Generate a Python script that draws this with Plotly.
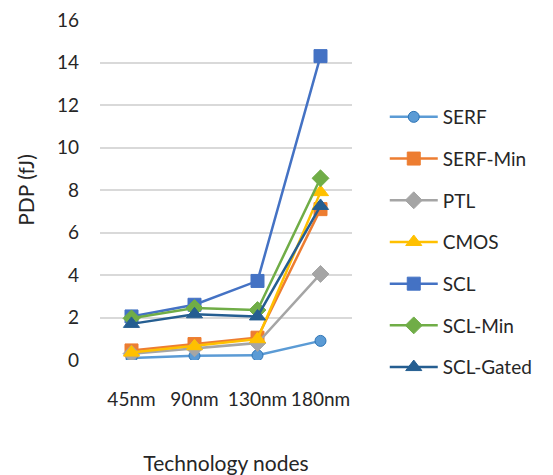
import plotly.graph_objects as go

nodes = ["45nm", "90nm", "130nm", "180nm"]

serf = [0.1, 0.2, 0.22, 0.9]
serf_min = [0.45, 0.75, 1.05, 7.1]
ptl = [0.3, 0.55, 0.8, 4.05]
cmos = [0.35, 0.65, 0.98, 7.9]
scl = [2.05, 2.6, 3.72, 14.3]
scl_min = [1.96, 2.45, 2.35, 8.55]
scl_gated = [1.7, 2.15, 2.05, 7.25]

series = [
    ("SERF", serf, "#5B9BD5", "circle", 11),
    ("SERF-Min", serf_min, "#ED7D31", "square", 13),
    ("PTL", ptl, "#A5A5A5", "diamond", 13),
    ("CMOS", cmos, "#FFC000", "triangle-up", 14),
    ("SCL", scl, "#4472C4", "square", 13),
    ("SCL-Min", scl_min, "#70AD47", "diamond", 13),
    ("SCL-Gated", scl_gated, "#255E91", "triangle-up", 14),
]

fig = go.Figure()
for name, vals, color, symbol, size in series:
    fig.add_trace(go.Scatter(
        x=nodes, y=vals, name=name, mode="lines+markers",
        legendgroup=name,
        line=dict(color=color, width=2.5),
        marker=dict(symbol=symbol, size=size, color=color,
                    line=dict(color="#2E75B6" if symbol == "circle" else color, width=1)),
    ))

font = "Lato, 'Open Sans', sans-serif"
fig.update_layout(
    width=553, height=475,
    margin=dict(l=100, r=201, t=20, b=115),
    paper_bgcolor="white", plot_bgcolor="white",
    font=dict(family=font, size=19, color="#262626"),
    showlegend=True,
    legend=dict(x=1.13, y=0.347, xanchor="left", yanchor="middle",
                tracegroupgap=14, itemwidth=48, font=dict(size=19),
                bgcolor="rgba(0,0,0,0)"),
    xaxis=dict(
        type="category", range=[-0.5, 3.5], automargin=False,
        showgrid=False, showline=False, zeroline=False,
        ticks="", tickfont=dict(size=19), ticklabelstandoff=26,
        title=dict(text="Technology nodes", font=dict(size=21), standoff=49),
    ),
    yaxis=dict(
        range=[0, 16], dtick=2, showgrid=True, gridcolor="#D9D9D9", gridwidth=1.5,
        zeroline=False, showline=False, ticks="", tickfont=dict(size=19),
        ticklabelstandoff=20, automargin=False,
        title=dict(text="PDP (fJ)", font=dict(size=21), standoff=16),
    ),
)

fig.write_html("out.html")
